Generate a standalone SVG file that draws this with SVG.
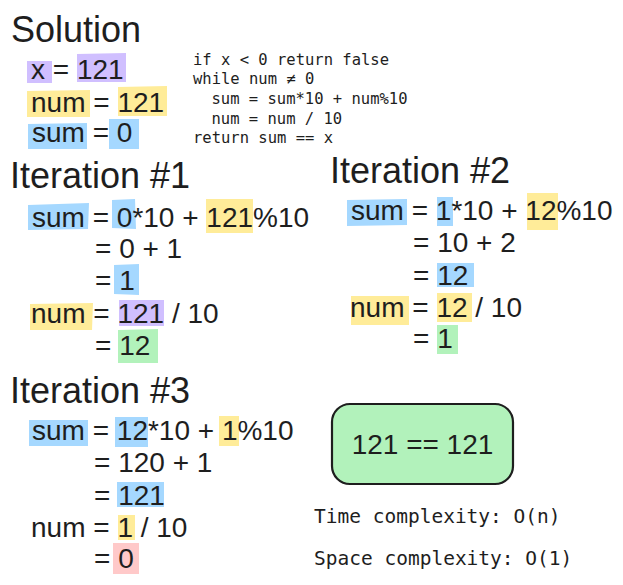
<svg xmlns="http://www.w3.org/2000/svg" width="623" height="585" viewBox="0 0 623 585">
<style>
.t{font-family:"Liberation Sans",Arial,sans-serif;font-size:28px;fill:#1e1e1e}
.h{font-family:"Liberation Sans",Arial,sans-serif;font-size:36px;fill:#1e1e1e}
.c{font-family:"DejaVu Sans Mono","Liberation Mono",monospace;font-size:15.5px;fill:#1e1e1e}
.cx{font-family:"DejaVu Sans Mono","Liberation Mono",monospace;font-size:19.5px;fill:#1e1e1e}
.b{fill:#a5d8ff}.y{fill:#ffec99}.p{fill:#d0bfff}.g{fill:#b2f2bb}.r{fill:#ffc9c9}
</style>
<rect width="623" height="585" fill="#ffffff"/>
<g id="solution">
<text class="h" x="11" y="42">Solution</text>
<polygon class="p" points="27,61 52,61 52,83 27,83"/>
<polygon class="p" points="77,54 126,53 126,82 77,82"/>
<polygon class="y" points="27,91 90,90 90,117 27,117"/>
<polygon class="y" points="118,87 167,86 167,116 118,116"/>
<polygon class="b" points="28,124 87,123 87,149 28,149"/>
<polygon class="b" points="109,119 139,119 139,149 109,149"/>
<text class="t" x="31" y="79">x = 121</text>
<text class="t" x="31" y="112">num = 121</text>
<text class="t" x="32" y="142">sum = 0</text>
</g>
<g id="code">
<text class="c" x="193" y="65">if x &lt; 0 return false</text>
<text class="c" x="193" y="84">while num ≠ 0</text>
<text class="c" x="211.5" y="104">sum = sum*10 + num%10</text>
<text class="c" x="211.5" y="124">num = num / 10</text>
<text class="c" x="193" y="143">return sum == x</text>
</g>
<g id="iteration1">
<text class="h" x="10" y="188">Iteration #1</text>
<polygon class="b" points="28,205 89,203 88,229 28,230"/>
<polygon class="b" points="112,200 135,199 136,229 112,228"/>
<polygon class="y" points="206,199 253,199 253,233 206,233"/>
<polygon class="b" points="114,265 139,264 139,295 114,294"/>
<polygon class="y" points="30,304 93,303 92,330 30,330"/>
<polygon class="p" points="119,300 164,300 164,326 119,326"/>
<polygon class="g" points="118,330 158,329 158,363 118,363"/>
<text class="t" x="32" y="227">sum = 0*10 + 121%10</text>
<text class="t" x="95" y="258">= 0 + 1</text>
<text class="t" x="95" y="290">= 1</text>
<text class="t" x="31" y="323">num = 121 / 10</text>
<text class="t" x="95" y="355">= 12</text>
</g>
<g id="iteration2">
<text class="h" x="330" y="183">Iteration #2</text>
<polygon class="b" points="347,200 407,199 407,225 347,226"/>
<polygon class="b" points="437,197 453,197 453,226 437,226"/>
<polygon class="y" points="527,193 558,193 558,230 527,230"/>
<polygon class="b" points="437,263 474,263 474,287 437,287"/>
<polygon class="y" points="351,296 409,296 409,325 351,325"/>
<polygon class="y" points="437,293 472,293 472,322 437,322"/>
<polygon class="g" points="437,325 458,325 458,354 437,354"/>
<text class="t" x="351" y="220">sum = 1*10 + 12%10</text>
<text class="t" x="413" y="252">= 10 + 2</text>
<text class="t" x="413" y="285">= 12</text>
<text class="t" x="350" y="317">num = 12 / 10</text>
<text class="t" x="413" y="348">= 1</text>
</g>
<g id="iteration3">
<text class="h" x="10" y="403">Iteration #3</text>
<polygon class="b" points="29,420 88,420 88,446 29,446"/>
<polygon class="b" points="115,417 148,417 148,447 115,447"/>
<polygon class="y" points="219,416 239,416 239,446 219,446"/>
<polygon class="b" points="117,482 164,482 164,507 117,507"/>
<polygon class="y" points="118,515 135,515 135,540 118,540"/>
<polygon class="r" points="113,543 139,543 139,574 113,574"/>
<text class="t" x="32" y="440">sum = 12*10 + 1%10</text>
<text class="t" x="94" y="472">= 120 + 1</text>
<text class="t" x="94" y="505">= 121</text>
<text class="t" x="31" y="537">num = 1 / 10</text>
<text class="t" x="94" y="568">= 0</text>
</g>
<g id="result">
<rect x="332" y="404" width="181" height="80" rx="18" fill="#b2f2bb" stroke="#1e1e1e" stroke-width="2.2"/>
<text class="t" x="422.5" y="454" text-anchor="middle">121 == 121</text>
</g>
<g id="complexity">
<text class="cx" x="314" y="523">Time complexity: O(n)</text>
<text class="cx" x="314" y="565">Space complexity: O(1)</text>
</g>
</svg>
